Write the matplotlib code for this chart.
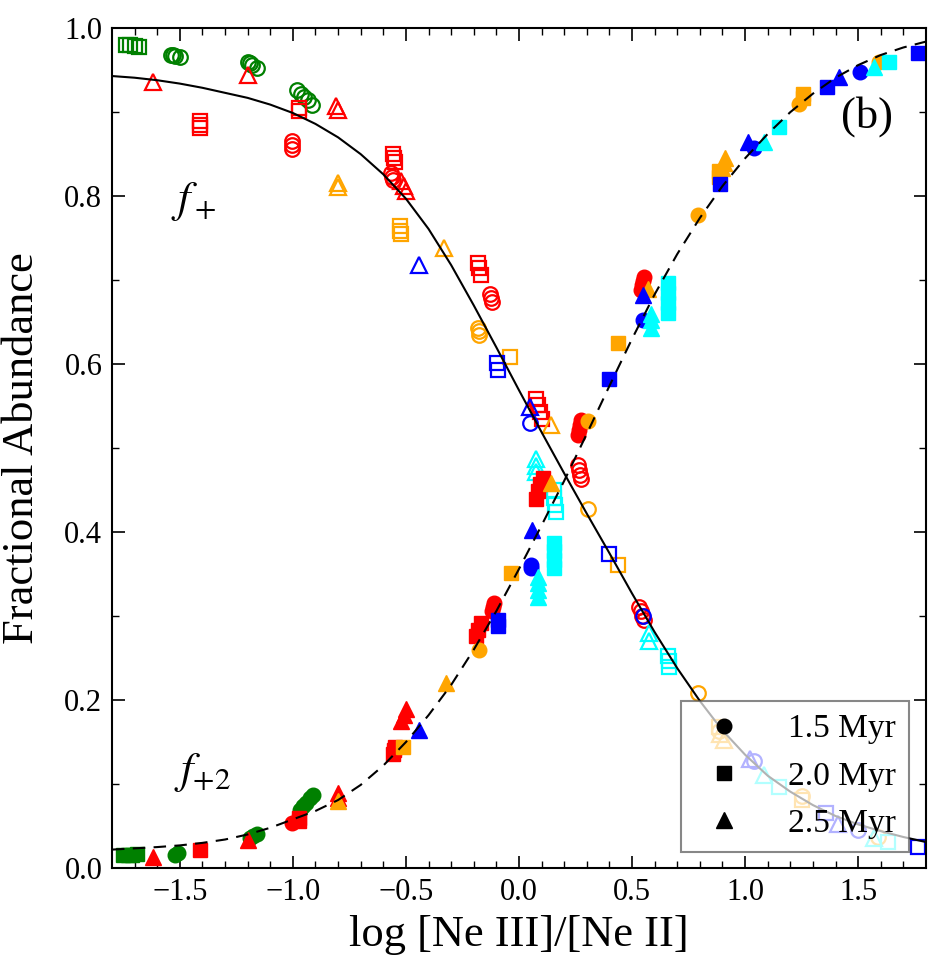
import matplotlib
matplotlib.use('Agg')
import matplotlib.pyplot as plt
from matplotlib.lines import Line2D

plt.rcParams['font.family'] = ['Liberation Serif', 'DejaVu Serif']
plt.rcParams['mathtext.fontset'] = 'stix'

# model curves
fplus_x = [-1.8, -1.7, -1.6, -1.5, -1.4, -1.3, -1.2, -1.1, -1.0, -0.9, -0.8, -0.7, -0.6,
           -0.5, -0.4, -0.3, -0.2, -0.1, 0.0, 0.1, 0.2, 0.3, 0.4, 0.5, 0.6, 0.7, 0.8,
           0.9, 1.0, 1.1, 1.2, 1.3, 1.4, 1.5, 1.6, 1.7, 1.8]
fplus_y = [0.943, 0.941, 0.938, 0.934, 0.929, 0.923, 0.917, 0.909, 0.899, 0.886, 0.870,
           0.850, 0.826, 0.797, 0.761, 0.718, 0.670, 0.620, 0.569, 0.519, 0.470, 0.422,
           0.375, 0.327, 0.281, 0.238, 0.199, 0.164, 0.135, 0.110, 0.091, 0.075, 0.062,
           0.052, 0.044, 0.037, 0.031]
fplus2_x = [-1.8, -1.6, -1.5, -1.4, -1.3, -1.2, -1.1, -1.0, -0.9, -0.8, -0.7, -0.6, -0.5,
            -0.4, -0.3, -0.2, -0.1, 0.0, 0.1, 0.2, 0.3, 0.4, 0.5, 0.6, 0.7, 0.8, 0.9,
            1.0, 1.1, 1.2, 1.3, 1.4, 1.5, 1.6, 1.7, 1.8]
fplus2_y = [0.022, 0.025, 0.027, 0.030, 0.034, 0.040, 0.048, 0.058, 0.068, 0.081, 0.099,
            0.122, 0.150, 0.182, 0.218, 0.260, 0.306, 0.356, 0.408, 0.461, 0.517, 0.574,
            0.630, 0.683, 0.731, 0.774, 0.812, 0.845, 0.874, 0.900, 0.922, 0.941, 0.956,
            0.968, 0.977, 0.984]

# open markers: f+
op_green_sq_x = [-1.74, -1.72, -1.70, -1.68]
op_green_sq_y = [0.980, 0.980, 0.979, 0.978]
op_green_ci_x = [-1.54, -1.53, -1.52, -1.50, -1.20, -1.19, -1.18, -1.16,
                 -0.98, -0.965, -0.95, -0.935, -0.915]
op_green_ci_y = [0.968, 0.968, 0.967, 0.966, 0.960, 0.958, 0.956, 0.953,
                 0.926, 0.922, 0.918, 0.914, 0.909]
op_red_tr_x = [-1.62, -1.20, -0.81, -0.80, -0.52, -0.51, -0.50]
op_red_tr_y = [0.936, 0.944, 0.907, 0.902, 0.818, 0.812, 0.806]
op_red_sq_x = [-1.41, -1.41, -1.41, -0.975, -0.975, -0.555, -0.553, -0.55,
               -0.18, -0.175, -0.17, 0.075, 0.085, 0.095, 0.10]
op_red_sq_y = [0.889, 0.885, 0.881, 0.905, 0.901, 0.850, 0.846, 0.841,
               0.720, 0.714, 0.706, 0.558, 0.551, 0.543, 0.535]
op_red_ci_x = [-1.005, -1.005, -1.005, -0.565, -0.56, -0.555, -0.13, -0.125, -0.12,
               0.26, 0.265, 0.27, 0.275, 0.53, 0.54, 0.545, 0.555]
op_red_ci_y = [0.866, 0.861, 0.856, 0.827, 0.823, 0.819, 0.684, 0.679, 0.674,
               0.480, 0.474, 0.468, 0.463, 0.311, 0.306, 0.300, 0.295]
op_orange_tr_x = [-0.80, -0.80, -0.33, 0.14, 0.89, 0.905]
op_orange_tr_y = [0.816, 0.811, 0.738, 0.527, 0.160, 0.152]
op_orange_sq_x = [-0.525, -0.525, -0.52, -0.04, 0.44, 0.885, 1.25]
op_orange_sq_y = [0.764, 0.759, 0.755, 0.608, 0.361, 0.168, 0.081]
op_orange_ci_x = [-0.18, -0.177, -0.175, 0.305, 0.79, 0.885, 1.25, 1.59]
op_orange_ci_y = [0.643, 0.639, 0.635, 0.428, 0.208, 0.163, 0.086, 0.037]
op_blue_tr_x = [-0.44, 0.05, 1.02, 1.41]
op_blue_tr_y = [0.718, 0.549, 0.130, 0.053]
op_blue_sq_x = [-0.095, -0.093, 0.40, 1.36, 1.765]
op_blue_sq_y = [0.601, 0.593, 0.374, 0.065, 0.025]
op_blue_ci_x = [0.05, 0.55, 1.04, 1.50]
op_blue_ci_y = [0.530, 0.300, 0.128, 0.045]
op_cyan_tr_x = [0.075, 0.075, 0.075, 0.575, 0.575, 1.085, 1.57]
op_cyan_tr_y = [0.487, 0.479, 0.471, 0.280, 0.270, 0.111, 0.036]
op_cyan_sq_x = [0.155, 0.157, 0.16, 0.162, 0.66, 0.662, 0.665, 1.15, 1.63]
op_cyan_sq_y = [0.450, 0.441, 0.432, 0.424, 0.253, 0.246, 0.239, 0.097, 0.031]

# filled markers: f+2
fi_green_sq_x = [-1.75, -1.73, -1.71, -1.69]
fi_green_sq_y = [0.015, 0.016, 0.016, 0.017]
fi_green_ci_x = [-1.52, -1.51, -1.19, -1.175, -1.16, -0.97, -0.955, -0.94, -0.925, -0.91]
fi_green_ci_y = [0.016, 0.018, 0.036, 0.038, 0.040, 0.069, 0.074, 0.078, 0.083, 0.087]
fi_red_tr_x = [-1.62, -1.20, -0.80, -0.80, -0.52, -0.51, -0.50]
fi_red_tr_y = [0.013, 0.034, 0.083, 0.089, 0.175, 0.182, 0.189]
fi_red_sq_x = [-1.41, -0.975, -0.975, -0.555, -0.553, -0.55, -0.19, -0.18, -0.17,
               0.075, 0.085, 0.095, 0.105]
fi_red_sq_y = [0.021, 0.056, 0.060, 0.136, 0.140, 0.144, 0.276, 0.284, 0.292,
               0.440, 0.449, 0.457, 0.465]
fi_red_ci_x = [-1.005, -0.12, -0.115, -0.11, 0.26, 0.265, 0.27, 0.275, 0.54, 0.545, 0.55, 0.555]
fi_red_ci_y = [0.054, 0.306, 0.311, 0.316, 0.516, 0.522, 0.528, 0.534, 0.688, 0.694, 0.699, 0.704]
fi_orange_tr_x = [-0.80, -0.323, 0.14, 0.57, 0.90, 0.905, 0.91]
fi_orange_tr_y = [0.080, 0.220, 0.458, 0.690, 0.833, 0.839, 0.846]
fi_orange_sq_x = [-0.515, -0.035, 0.44, 0.885, 0.885, 1.255, 1.255]
fi_orange_sq_y = [0.144, 0.351, 0.625, 0.823, 0.830, 0.917, 0.922]
fi_orange_ci_x = [-0.177, 0.305, 0.79, 1.24, 1.593]
fi_orange_ci_y = [0.260, 0.532, 0.777, 0.910, 0.960]
fi_blue_tr_x = [-0.44, 0.057, 0.55, 1.013, 1.415]
fi_blue_tr_y = [0.164, 0.402, 0.682, 0.864, 0.942]
fi_blue_sq_x = [-0.093, -0.093, 0.40, 0.89, 1.363, 1.765]
fi_blue_sq_y = [0.288, 0.295, 0.582, 0.815, 0.930, 0.971]
fi_blue_ci_x = [0.053, 0.053, 0.55, 1.04, 1.51]
fi_blue_ci_y = [0.357, 0.361, 0.652, 0.857, 0.948]
fi_cyan_tr_x = [0.083, 0.083, 0.083, 0.083, 0.585, 0.585, 0.585, 1.085, 1.57]
fi_cyan_tr_y = [0.323, 0.331, 0.339, 0.347, 0.643, 0.652, 0.660, 0.864, 0.954]
fi_cyan_sq_x = [0.155, 0.155, 0.155, 0.155, 0.66, 0.66, 0.66, 0.66, 1.15, 1.637]
fi_cyan_sq_y = [0.357, 0.367, 0.377, 0.387, 0.661, 0.673, 0.685, 0.696, 0.882, 0.960]

ages = ['1.5 Myr', '2.0 Myr', '2.5 Myr']

GREEN, RED, ORANGE, BLUE, CYAN = 'green', 'red', 'orange', 'blue', 'cyan'

open_series = [
    (op_green_sq_x, op_green_sq_y, GREEN, 's'),
    (op_green_ci_x, op_green_ci_y, GREEN, 'o'),
    (op_red_tr_x, op_red_tr_y, RED, '^'),
    (op_red_sq_x, op_red_sq_y, RED, 's'),
    (op_red_ci_x, op_red_ci_y, RED, 'o'),
    (op_orange_tr_x, op_orange_tr_y, ORANGE, '^'),
    (op_orange_sq_x, op_orange_sq_y, ORANGE, 's'),
    (op_orange_ci_x, op_orange_ci_y, ORANGE, 'o'),
    (op_blue_tr_x, op_blue_tr_y, BLUE, '^'),
    (op_blue_sq_x, op_blue_sq_y, BLUE, 's'),
    (op_blue_ci_x, op_blue_ci_y, BLUE, 'o'),
    (op_cyan_tr_x, op_cyan_tr_y, CYAN, '^'),
    (op_cyan_sq_x, op_cyan_sq_y, CYAN, 's'),
]
filled_series = [
    (fi_green_sq_x, fi_green_sq_y, GREEN, 's'),
    (fi_green_ci_x, fi_green_ci_y, GREEN, 'o'),
    (fi_red_tr_x, fi_red_tr_y, RED, '^'),
    (fi_red_sq_x, fi_red_sq_y, RED, 's'),
    (fi_red_ci_x, fi_red_ci_y, RED, 'o'),
    (fi_orange_tr_x, fi_orange_tr_y, ORANGE, '^'),
    (fi_orange_sq_x, fi_orange_sq_y, ORANGE, 's'),
    (fi_orange_ci_x, fi_orange_ci_y, ORANGE, 'o'),
    (fi_blue_tr_x, fi_blue_tr_y, BLUE, '^'),
    (fi_blue_sq_x, fi_blue_sq_y, BLUE, 's'),
    (fi_blue_ci_x, fi_blue_ci_y, BLUE, 'o'),
    (fi_cyan_tr_x, fi_cyan_tr_y, CYAN, '^'),
    (fi_cyan_sq_x, fi_cyan_sq_y, CYAN, 's'),
]

msize = {'o': 10.5, 's': 9.5, '^': 11}

fig = plt.figure(figsize=(9.41, 9.71), dpi=100)
ax = fig.add_axes([0.119, 0.106, 0.865, 0.865])

for xs, ys, c, m in open_series:
    ax.plot(xs, ys, ls='none', marker=m, ms=msize[m], mfc='none', mec=c, mew=1.6, zorder=2)
for xs, ys, c, m in filled_series:
    ax.plot(xs, ys, ls='none', marker=m, ms=msize[m], mfc=c, mec=c, mew=1.0, zorder=2)

ax.plot(fplus_x, fplus_y, color='black', lw=1.5, zorder=3)
ax.plot(fplus2_x, fplus2_y, color='black', lw=1.5, ls=(0, (6, 4)), zorder=3)

ax.set_xlim(-1.8, 1.8)
ax.set_ylim(0.0, 1.0)
ax.set_xticks([-1.5, -1.0, -0.5, 0.0, 0.5, 1.0, 1.5])
ax.set_yticks([0.0, 0.2, 0.4, 0.6, 0.8, 1.0])
ax.set_xticks([v / 10 for v in range(-17, 18)], minor=True)
ax.set_yticks([v / 10 for v in range(0, 11)], minor=True)
ax.tick_params(which='both', direction='in', top=True, right=True, labelsize=22, pad=7)
ax.tick_params(which='major', length=9, width=1.2)
ax.tick_params(which='minor', length=5, width=1.0)
for sp in ax.spines.values():
    sp.set_linewidth(1.5)

ax.set_xlabel('log [Ne III]/[Ne II]', fontsize=32, labelpad=6)
ax.set_ylabel('Fractional Abundance', fontsize=32, labelpad=16)

ax.text(-1.44, 0.794, r'$f_+$', fontsize=32, ha='center', va='center')
ax.text(-1.40, 0.114, r'$f_{+2}$', fontsize=32, ha='center', va='center')
ax.text(1.54, 0.895, '(b)', fontsize=32, ha='center', va='center')

handles = [Line2D([], [], ls='none', marker=m, color='black', ms=msize[m])
           for m in ['o', 's', '^']]
leg = ax.legend(handles, ages, loc='lower right', bbox_to_anchor=(0.979, 0.019),
                borderaxespad=0, fontsize=24, frameon=True, fancybox=False,
                framealpha=0.7, edgecolor='#555555', handletextpad=1.0,
                labelspacing=0.5, handlelength=1.8, borderpad=0.4)
leg.get_frame().set_linewidth(1.5)
leg.set_zorder(5)

fig.savefig('out.png', dpi=100)
